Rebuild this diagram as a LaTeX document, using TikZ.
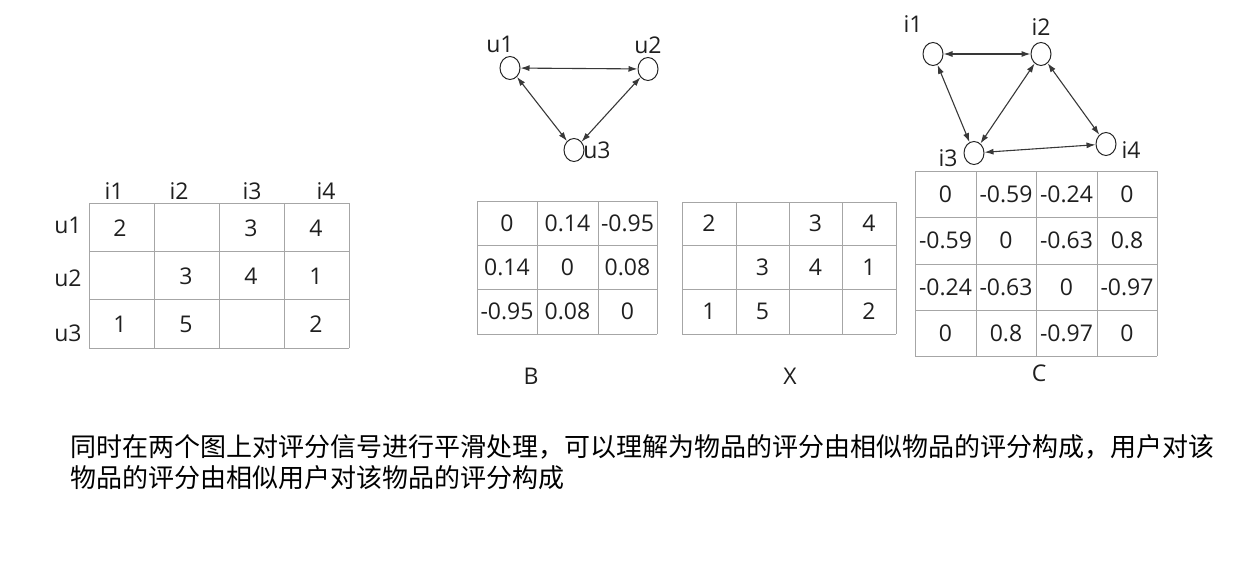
\documentclass[tikz,border=0pt]{standalone}
\usepackage{fontspec}
\setmainfont{Open Sans}
\newfontfamily\cjk{Noto Sans CJK SC}
\usetikzlibrary{arrows.meta,shapes.geometric}
\begin{document}
\begin{tikzpicture}[x=1pt,y=-1pt,
  every node/.style={font=\fontsize{23}{27}\selectfont, inner sep=0pt, text=black!88},
  grid/.style={draw=black!35, line width=1pt},
  vert/.style={ellipse, draw=black!85, line width=1pt, minimum width=20pt, minimum height=23pt},
  biedge/.style={{Latex[length=9pt,width=6pt]}-{Latex[length=9pt,width=6pt]}, draw=black!78, line width=1.1pt},
  cjktext/.style={font=\cjk\fontsize{26}{30}\selectfont, anchor=base west, text=black}
]
\useasboundingbox (0,0) rectangle (1234,567);

% ---------- Table R (left) ----------
\foreach \x in {89,154,219,284,349} \draw[grid] (\x,203) -- (\x,348);
\foreach \y in {203,251,299,348} \draw[grid] (89,\y) -- (349,\y);
\node (hi1) at (114,191) {i1};
\node (hi2) at (179,191) {i2};
\node (hi3) at (252,191) {i3};
\node (hi4) at (326,191) {i4};
\node (hu1) at (68,225) {u1};
\node (hu2) at (68,278) {u2};
\node (hu3) at (68,333) {u3};
\node (r11) at (120,228) {2};
\node (r13) at (251,228) {3};
\node (r14) at (316,228) {4};
\node (r22) at (186,276) {3};
\node (r23) at (251,276) {4};
\node (r24) at (316,276) {1};
\node (r31) at (120,324) {1};
\node (r32) at (186,324) {5};
\node (r34) at (316,324) {2};

% ---------- Table B ----------
\foreach \x in {477,537,598,657} \draw[grid] (\x,201) -- (\x,334);
\foreach \y in {201,245,289,334} \draw[grid] (477,\y) -- (657,\y);
\node (b11) at (507,223) {0};
\node (b12) at (567.5,223) {0.14};
\node (b13) at (627.5,223) {-0.95};
\node (b21) at (507,267) {0.14};
\node (b22) at (567.5,267) {0};
\node (b23) at (627.5,267) {0.08};
\node (b31) at (507,311.5) {-0.95};
\node (b32) at (567.5,311.5) {0.08};
\node (b33) at (627.5,311.5) {0};
\node (labB) at (531,376) {B};

% ---------- Table X ----------
\foreach \x in {682,736,789,842,896} \draw[grid] (\x,202) -- (\x,334);
\foreach \y in {202,245,289,334} \draw[grid] (682,\y) -- (896,\y);
\node (x11) at (709,223.5) {2};
\node (x13) at (815.5,223.5) {3};
\node (x14) at (869,223.5) {4};
\node (x22) at (762.5,267) {3};
\node (x23) at (815.5,267) {4};
\node (x24) at (869,267) {1};
\node (x31) at (709,311.5) {1};
\node (x32) at (762.5,311.5) {5};
\node (x34) at (869,311.5) {2};
\node (labX) at (790,376) {X};

% ---------- Table C ----------
\foreach \x in {915,976,1036,1097,1157} \draw[grid] (\x,171) -- (\x,356);
\foreach \y in {171,217,264,310,356} \draw[grid] (915,\y) -- (1157,\y);
\node (c11) at (945.5,194) {0};
\node (c12) at (1006,194) {-0.59};
\node (c13) at (1066.5,194) {-0.24};
\node (c14) at (1127,194) {0};
\node (c21) at (945.5,240.5) {-0.59};
\node (c22) at (1006,240.5) {0};
\node (c23) at (1066.5,240.5) {-0.63};
\node (c24) at (1127,240.5) {0.8};
\node (c31) at (945.5,287) {-0.24};
\node (c32) at (1006,287) {-0.63};
\node (c33) at (1066.5,287) {0};
\node (c34) at (1127,287) {-0.97};
\node (c41) at (945.5,333) {0};
\node (c42) at (1006,333) {0.8};
\node (c43) at (1066.5,333) {-0.97};
\node (c44) at (1127,333) {0};
\node (labC) at (1039,373) {C};

% ---------- User graph ----------
\node[vert] (u1) at (510,68) {};
\node[vert] (u2) at (648,69) {};
\node[vert] (u3) at (574,150) {};
\node (lu1) at (500,44) {u1};
\node (lu2) at (648,45) {u2};
\node (lu3) at (597,150) {u3};
\draw[biedge] (u1) -- (u2);
\draw[biedge] (u1) -- (u3);
\draw[biedge] (u2) -- (u3);

% ---------- Item graph ----------
\node[vert] (i1) at (933,54) {};
\node[vert] (i2) at (1041,54) {};
\node[vert] (i3) at (974,153) {};
\node[vert] (i4) at (1106,144) {};
\node (li1) at (913,24) {i1};
\node (li2) at (1041,27) {i2};
\node (li3) at (948,158) {i3};
\node (li4) at (1131,150) {i4};
\draw[biedge] (i1) -- (i2);
\draw[biedge] (i1) -- (i3);
\draw[biedge] (i2) -- (i3);
\draw[biedge] (i2) -- (i4);
\draw[biedge] (i3) -- (i4);

% ---------- Caption ----------
\node[cjktext] (t1) at (70,456) {同时在两个图上对评分信号进行平滑处理，可以理解为物品的评分由相似物品的评分构成，用户对该};
\node[cjktext] (t2) at (70,487) {物品的评分由相似用户对该物品的评分构成};
\end{tikzpicture}
\end{document}
